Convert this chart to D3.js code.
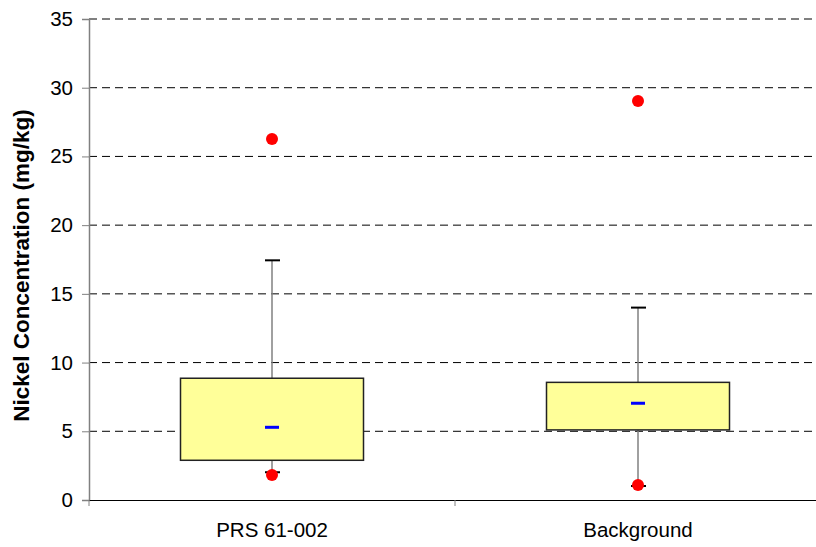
<!DOCTYPE html>
<html><head><meta charset="utf-8">
<script src="https://cdn.jsdelivr.net/npm/d3@7"></script>
<style>body{margin:0;background:#fff}text{font-family:"Liberation Sans",Arial,sans-serif}</style>
</head><body><svg id="c" width="816" height="547"></svg>
<script>
const categories = ["PRS 61-002", "Background"];
const whiskerLow = [2.02, 1.02];
const q1 = [2.89, 5.1];
const mean = [5.29, 7.04];
const q3 = [8.86, 8.56];
const whiskerHigh = [17.44, 14.0];
const outliers = [[26.27, 1.82], [29.03, 1.09]];
const yTicks = [0, 5, 10, 15, 20, 25, 30, 35];
const yTitle = "Nickel Concentration (mg/kg)";

const svg = d3.select("#c");
const L = 89, R = 821, T = 19, B = 500;
const x = d3.scaleBand().domain(categories).range([L, R]);
const y = d3.scaleLinear().domain([0, 35]).range([B, T]);
const bw = x.bandwidth() * 0.5;

// grid
svg.append("g").selectAll("line").data(yTicks.filter(d => d > 0)).join("line")
  .attr("x1", L).attr("x2", R).attr("y1", d => y(d)).attr("y2", d => y(d))
  .attr("stroke", "#000").attr("stroke-width", 1).attr("stroke-dasharray", "8,5");

// y axis
const ya = svg.append("g").attr("transform", `translate(${L},0)`)
  .call(d3.axisLeft(y).tickValues(yTicks).tickSize(7).tickPadding(9));
ya.select(".domain").attr("stroke", "#808080").attr("stroke-width", 1.5);
ya.selectAll(".tick line").attr("stroke", "#808080");
ya.selectAll("text").attr("font-size", 20.5).attr("fill", "#000").attr("font-family", "Liberation Sans, Arial, sans-serif");

// x axis
const xa = svg.append("g").attr("transform", `translate(0,${B})`)
  .call(d3.axisBottom(x).tickSize(0).tickPadding(22));
xa.select(".domain").attr("stroke", "#000").attr("stroke-width", 1.2);
xa.selectAll("text").attr("font-size", 20.5).attr("fill", "#000").attr("font-family", "Liberation Sans, Arial, sans-serif");
svg.append("g").selectAll("line").data([L, x(categories[1]), R]).join("line")
  .attr("x1", d => d).attr("x2", d => d).attr("y1", B).attr("y2", B + 6)
  .attr("stroke", "#808080").attr("stroke-width", 1);

const g = svg.append("g");
categories.forEach((c, i) => {
  const cx = x(c) + x.bandwidth() / 2;
  // whiskers
  g.append("line").attr("x1", cx).attr("x2", cx).attr("y1", y(whiskerHigh[i])).attr("y2", y(whiskerLow[i]))
    .attr("stroke", "#808080").attr("stroke-width", 1.5);
  [whiskerHigh[i], whiskerLow[i]].forEach(v => {
    g.append("line").attr("x1", cx - 7).attr("x2", cx + 8).attr("y1", y(v)).attr("y2", y(v))
      .attr("stroke", "#000").attr("stroke-width", 2);
  });
  // box
  g.append("rect").attr("x", cx - bw / 2).attr("width", bw)
    .attr("y", y(q3[i])).attr("height", y(q1[i]) - y(q3[i]))
    .attr("fill", "#FFFF99").attr("stroke", "#222").attr("stroke-width", 1.5);
  // mean
  g.append("rect").attr("x", cx - 7).attr("width", 14).attr("y", y(mean[i]) - 1.5).attr("height", 3)
    .attr("fill", "#0000FF");
  // outliers
  outliers[i].forEach(v => {
    g.append("circle").attr("cx", cx).attr("cy", y(v)).attr("r", 6).attr("fill", "#FF0000");
  });
});

svg.append("text").attr("transform", `translate(29,265.5) rotate(-90)`)
  .attr("text-anchor", "middle").attr("font-size", 22.5).attr("font-weight", "bold").text(yTitle);
</script></body></html>
